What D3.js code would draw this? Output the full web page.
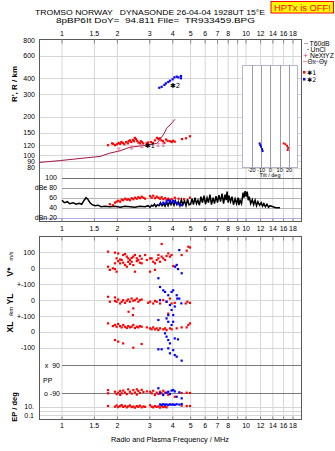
<!DOCTYPE html>
<html><head><meta charset="utf-8">
<script src="https://cdn.jsdelivr.net/npm/d3@7/dist/d3.min.js"></script>
<style>
body{margin:0;background:#fff}
svg{display:block}
text{font-family:"Liberation Sans",Arial,sans-serif;fill:#000}
</style>
</head><body>
<svg id="c" width="335" height="451"></svg>
<script>
// ---------------- DATA ----------------
const headerLine1 = "TROMSO NORWAY   DYNASONDE 26-04-04 1928UT 15°E";
const headerLine2 = "8pBP6It DoY=  94.811 File=  TR933459.BPG";
const statusText = "HPTx is OFF!";
const xTitle = "Radio and Plasma Frequency / MHz";

const freqTicksTop = [1,1.5,2,3,4,5,6,7,8,10,12,14,16,18];
const freqTicksMid = [1,1.5,2,3,4,5,6,7,8,9,10,12,14,16,18];
const freqTicksBottom = [1,1.5,2,3,4,5,6,7,8,10,12,14,16,18];
const freqGrid = [1,1.5,2,3,4,5,6,7,8,9,10,12,14,16,18];

const heightTicks = [800,600,400,300,200,150,120,100,90,80];
const ampTicks = [100,80,60,40,20];
const ampLabels = ["100","dBe 80","60","40","dBn 20"];
const tiltTicks = [-20,-10,0,10,20];
const vTicks = [100,0,-100];
const vLabels = ["100","0","+-100"];
const ylTicks = [0,-100];
const ylLabels = ["0","+-100"];
const xlTicks = [0,-100];
const xlLabels = ["0","-100"];
const ppTicks = [90,-90];
const ppLabels = ["x  90","o -90"];
const epTicks = [10,1,0.1];
const epLabels = ["10.","","0.1"];

// real-height profile (f MHz, km)
const profile = [[0.755,88],[0.98,91],[1.30,95],[1.61,98],[1.82,104],[2.07,108.6],[2.25,113.5],[2.34,115.6],[2.65,118.3],[2.99,120.5],[3.27,124.2],[3.34,127.9],[3.54,144],[3.63,153],[3.70,162.8],[3.86,172.7],[4.11,191.4]];
// NeXtYZ markers
const nextyz = [[2.04,111],[2.39,115],[2.72,118],[3.33,121],[3.55,121]];
// echo trace *1 (red) virtual heights
const red1 = [[1.78,120],[1.87,124],[1.90,123],[1.94,120],[1.99,122],[2.03,125],[2.07,123],[2.10,127],[2.14,125],[2.18,122],[2.23,127],[2.28,124],[2.30,129],[2.34,131],[2.38,127],[2.43,132],[2.46,129],[2.49,137],[2.52,134],[2.56,130],[2.60,126],[2.65,124],[2.68,129],[2.72,127],[2.76,124],[2.88,124],[2.93,126],[3.04,127],[3.12,125],[3.20,131],[3.28,137],[3.34,134],[3.40,136],[3.47,131],[3.54,129],[3.60,125],[3.68,133],[3.75,130],[3.86,129],[3.95,127],[4.01,130],[4.10,128],[4.49,134],[4.72,136],[4.96,141]];
// echo trace *2 (blue)
const blue2 = [[3.38,338],[3.48,344],[3.60,356],[3.67,366],[3.78,375],[3.86,384],[3.99,394],[4.08,408],[4.20,413],[4.29,408],[4.43,418],[4.43,401]];
// amplitude (dB)
const noise = [[1.00,55],[1.03,50],[1.07,52],[1.10,48],[1.15,50],[1.19,47],[1.24,49],[1.28,47],[1.32,55],[1.35,60],[1.38,57],[1.42,50],[1.46,46],[1.51,44],[1.57,45],[1.63,42],[1.71,43],[1.82,42],[1.94,43],[2.07,41],[2.20,43],[2.34,42],[2.49,41],[2.65,43],[2.83,42],[2.93,44],[3.01,41],[3.07,45],[3.12,43],[3.18,47],[3.24,42],[3.30,46],[3.37,44],[3.43,50],[3.50,44],[3.56,48],[3.63,43],[3.70,51],[3.77,44],[3.84,52],[3.91,46],[3.98,53],[4.06,45],[4.13,54],[4.21,46],[4.29,52],[4.37,44],[4.45,56],[4.54,46],[4.63,54],[4.72,44],[4.81,57],[4.90,46],[5.00,47],[5.09,58],[5.18,46],[5.28,60],[5.38,48],[5.48,55],[5.58,45],[5.69,62],[5.80,50],[5.91,64],[6.02,47],[6.14,60],[6.25,50],[6.37,66],[6.49,46],[6.62,60],[6.74,48],[6.87,63],[7.00,50],[7.13,65],[7.27,52],[7.41,68],[7.55,48],[7.69,66],[7.80,55],[7.89,72],[8.00,50],[8.08,64],[8.24,52],[8.39,62],[8.55,46],[8.72,58],[8.88,48],[9.05,60],[9.15,45],[9.28,55],[9.45,48],[9.64,70],[9.75,60],[9.89,73],[10.02,62],[10.15,72],[10.28,55],[10.41,62],[10.6,48],[10.81,56],[11.0,46],[11.2,55],[11.4,44],[11.6,52],[11.85,45],[12.1,50],[12.3,43],[12.5,48],[12.75,42],[13.0,47],[13.25,41],[13.5,44],[14.0,42],[14.5,40],[15.3,40]];
const redAmp = [[1.82,47],[1.89,45],[1.94,50],[1.98,52],[2.02,54],[2.07,52],[2.11,56],[2.15,55],[2.20,58],[2.25,56],[2.29,57],[2.34,55],[2.39,59],[2.44,57],[2.49,60],[2.55,58],[2.60,61],[2.65,59],[2.71,62],[2.77,60],[2.83,58],[3.01,63],[3.07,60],[3.13,64],[3.20,59],[3.27,62],[3.34,60],[3.41,58],[3.48,61],[3.55,57],[3.63,59],[3.70,56],[3.78,58],[3.86,55],[3.94,57],[4.10,60],[4.30,58],[4.60,57],[4.96,60]];
const blueAmp = [[3.41,47],[3.55,50],[3.63,48],[3.70,52],[3.78,55],[3.86,53],[3.94,50],[4.02,54],[4.10,52],[4.20,49],[4.34,47],[4.47,45]];
// V* (m/s)
const redV = [[1.78,104],[1.78,10],[1.82,-10],[1.89,0],[1.94,98],[1.94,31],[1.94,-5],[1.98,62],[1.98,-21],[2.02,93],[2.02,45],[2.07,31],[2.07,55],[2.11,52],[2.15,83],[2.15,35],[2.20,89],[2.20,21],[2.25,73],[2.25,10],[2.29,62],[2.29,40],[2.34,52],[2.34,27],[2.39,41],[2.39,65],[2.44,73],[2.44,20],[2.49,83],[2.49,-21],[2.55,62],[2.55,45],[2.60,52],[2.65,77],[2.65,35],[2.71,31],[2.71,60],[2.83,83],[2.89,52],[3.01,62],[3.01,-21],[3.07,62],[3.13,41],[3.20,31],[3.20,-10],[3.27,52],[3.34,62],[3.34,83],[3.41,41],[3.48,73],[3.48,152],[3.55,62],[3.63,52],[3.70,77],[3.78,93],[3.86,73],[3.94,83],[4.02,14],[4.47,83],[4.76,110],[4.86,135],[4.96,130]];
const blueV = [[4.34,114],[4.20,21],[4.12,10],[4.27,-5],[4.47,-31],[3.34,-62]];
// YL (km)
const redYL = [[1.78,21],[1.82,-10],[1.94,17],[1.94,-5],[1.98,-10],[2.02,4],[2.07,-21],[2.11,-10],[2.15,0],[2.20,-17],[2.25,-4],[2.29,4],[2.34,-10],[2.39,10],[2.44,-4],[2.44,-52],[2.49,0],[2.55,10],[2.60,-10],[2.65,0],[2.71,4],[2.30,-73],[2.43,-94],[2.94,-17],[3.01,-10],[3.13,-21],[3.20,-5],[3.27,-10],[3.41,-21],[3.55,0],[3.70,-10],[3.78,-85],[3.86,10],[3.94,-21],[4.10,-17],[4.70,-21],[4.80,-10],[4.96,-17]];
const blueYL = [[3.41,83],[3.55,62],[3.63,52],[3.78,31],[3.94,52],[4.02,62],[4.20,31],[4.23,10],[4.34,10],[3.41,0],[3.70,-10],[3.86,-31],[3.94,-62],[4.02,-94],[3.78,-94],[4.10,-40],[4.45,-20]];
// XL (km)
const redXL = [[1.78,52],[1.89,35],[1.94,42],[1.98,31],[2.02,48],[2.07,35],[2.11,27],[2.15,42],[2.20,31],[2.25,23],[2.29,35],[2.34,27],[2.39,31],[2.44,42],[2.49,23],[2.55,31],[2.60,27],[2.65,35],[2.71,31],[2.89,27],[3.01,21],[3.07,15],[3.13,27],[3.20,15],[3.27,21],[3.34,10],[3.41,21],[3.55,15],[3.63,21],[3.70,10],[3.86,21],[3.94,15],[4.20,21],[4.47,27],[4.76,27],[4.86,42],[4.96,52],[1.94,-52],[2.02,-62],[2.15,-73],[2.44,-100],[2.71,-77]];
const blueXL = [[3.34,73],[3.70,83],[3.78,62],[3.94,42],[4.02,62],[3.63,-10],[3.70,-31],[3.78,-52],[3.86,-73],[4.10,-42],[4.27,-48],[3.78,-104],[3.34,-110],[3.48,-110],[4.02,-115],[3.86,-135],[4.10,-146],[4.20,-156],[4.47,-181]];
// PP (deg)
const redPP = [[1.78,-70],[1.78,-90],[1.94,-80],[1.98,-95],[2.02,-86],[2.07,-100],[2.07,-75],[2.11,-90],[2.15,-73],[2.20,-85],[2.25,-95],[2.29,-65],[2.34,-80],[2.39,-92],[2.44,-70],[2.49,-85],[2.55,-65],[2.55,-98],[2.60,-75],[2.65,-88],[2.71,-68],[2.77,-82],[2.89,-78],[3.01,-80],[3.07,-90],[3.13,-74],[3.20,-101],[3.27,-86],[3.34,-94],[3.41,-80],[3.48,-90],[3.55,-74],[3.63,-86],[3.78,-100],[4.10,-112],[4.47,-88],[4.76,-86],[4.96,-88]];
const bluePP = [[3.34,-58],[3.41,-90],[3.55,-101],[3.70,-86],[3.78,-80],[3.86,-94],[3.94,-73],[4.02,-69],[4.10,-78],[4.20,-112],[4.47,-122],[4.34,-84]];
// EP (deg)
const redEP = [[1.78,15],[1.94,10],[1.98,20],[2.02,8],[2.07,14],[2.11,25],[2.15,9],[2.20,16],[2.25,7],[2.29,12],[2.34,20],[2.39,8],[2.44,11],[2.49,6],[2.55,14],[2.60,9],[2.65,18],[2.71,7],[2.77,12],[2.83,9],[3.01,22],[3.07,10],[3.13,7],[3.20,14],[3.27,9],[3.34,12],[3.41,6],[3.48,16],[3.55,8],[3.63,11],[3.70,7],[4.47,18],[4.76,15],[4.96,15]];
const blueEP = [[3.41,35],[3.48,28],[3.55,40],[3.63,30],[3.70,35],[3.78,25],[3.86,38],[3.94,30],[4.02,35],[4.10,28],[4.20,40],[4.34,32],[4.47,45]];
// Tilt inset (deg, km)
const redTilt = [[14.3,124],[16.1,122],[17.9,118.7],[19.0,114.5],[18.6,110]];
const blueTilt = [[-11.5,124],[-10.8,120.5],[-10.0,116.8],[-8.9,112],[-8.3,108]];
const traceLabels = [{t:"✱1", f:3.0, h:120},{t:"✱2", f:4.12, h:352}];
const legendItems = ["T60dB","UnCl","NeXtYZ"];

// ---------------- SCALES ----------------
const FX0=39.5, FX1=301.5, TOP0=39.5, TOP1=221.5, BOT0=236.5, BOT1=419.5;
const x = d3.scaleLog().domain([1,18]).range([62,293]);
const yR = d3.scaleLog().domain([80,800]).range([167.7,40]);
const yA = d3.scaleLinear().domain([20,100]).range([217.7,177.7]);
const yV = d3.scaleLinear().domain([-100,100]).range([284.3,252.3]);
const yYL = d3.scaleLinear().domain([-100,100]).range([316,284.3]);
const yXL = d3.scaleLinear().domain([-100,100]).range([347.7,315.7]);
const yPP = d3.scaleLinear().domain([-90,90]).range([393.3,365]);
const yEP = d3.scaleLog().domain([0.1,10]).range([415,406.7]);
const xT = d3.scaleLinear().domain([-20,20]).range([251.7,289]);

const RED="#ff0000", BLUE="#0000ff", GRID="#d6d6d6", FRAME="#5a5a5a";
const svg = d3.select("#c");

// clip paths
const defs = svg.append("defs");
defs.append("clipPath").attr("id","ct").append("rect").attr("x",FX0).attr("y",TOP0).attr("width",FX1-FX0).attr("height",TOP1-TOP0);
defs.append("clipPath").attr("id","cb").append("rect").attr("x",FX0).attr("y",BOT0).attr("width",FX1-FX0).attr("height",BOT1-BOT0);

// ---------------- HEADER ----------------
svg.append("text").attr("x",35).attr("y",15.3).attr("font-size",8).attr("textLength",230).attr("lengthAdjust","spacingAndGlyphs")
  .style("white-space","pre").text(headerLine1);
svg.append("text").attr("x",56).attr("y",23).attr("font-size",8).attr("textLength",199).attr("lengthAdjust","spacingAndGlyphs")
  .style("white-space","pre").text(headerLine2);
svg.append("rect").attr("x",271).attr("y",1.5).attr("width",62.5).attr("height",11.5).attr("fill","#ffff00").attr("stroke",RED).attr("stroke-width",1);
svg.append("text").attr("x",274).attr("y",10.8).attr("font-size",8.5).attr("textLength",57).attr("lengthAdjust","spacingAndGlyphs")
  .style("fill",RED).text(statusText);

// ---------------- GRIDS ----------------
const gTop = svg.append("g");
gTop.selectAll("line.vg").data(freqGrid).join("line")
  .attr("x1",d=>x(d)).attr("x2",d=>x(d)).attr("y1",TOP0).attr("y2",TOP1).attr("stroke",GRID);
gTop.selectAll("line.hg").data(heightTicks.slice(1)).join("line").attr("class","hg")
  .attr("x1",FX0).attr("x2",FX1).attr("y1",d=>Math.round(yR(d))+0.5).attr("y2",d=>Math.round(yR(d))+0.5).attr("stroke",GRID);
const gBot = svg.append("g");
gBot.selectAll("line").data(freqGrid).join("line")
  .attr("x1",d=>x(d)).attr("x2",d=>x(d)).attr("y1",BOT0).attr("y2",BOT1).attr("stroke",GRID);

// lower panel horizontal grid lines
const lowLines = [yV(100),yV(0),yV(-100),yYL(0),yYL(-100),yXL(0),yXL(-100)];
svg.selectAll("line.lg").data(lowLines).join("line").attr("class","lg")
  .attr("x1",FX0).attr("x2",FX1).attr("y1",d=>Math.round(d)+0.5).attr("y2",d=>Math.round(d)+0.5).attr("stroke",GRID);
svg.selectAll("line.ep").data(epTicks).join("line").attr("class","ep")
  .attr("x1",FX0).attr("x2",FX1).attr("y1",d=>Math.round(yEP(d))+0.5).attr("y2",d=>Math.round(yEP(d))+0.5).attr("stroke",GRID);
svg.selectAll("line.pp").data(ppTicks).join("line").attr("class","pp")
  .attr("x1",x(1)).attr("x2",FX1).attr("y1",d=>Math.round(yPP(d))+0.5).attr("y2",d=>Math.round(yPP(d))+0.5).attr("stroke","#7a7a7a");

// amplitude lines
const ampColor = [ "#707070","#9a9a9a","#b4b4b4","#b4b4b4","#b0b0e8"];
svg.selectAll("line.am").data(ampTicks).join("line").attr("class","am")
  .attr("x1",(d,i)=>i===4?FX0:x(1)).attr("x2",FX1)
  .attr("y1",d=>Math.round(yA(d))+0.5).attr("y2",d=>Math.round(yA(d))+0.5)
  .attr("stroke",(d,i)=>ampColor[i]);

// ---------------- FRAMES & TICKS ----------------
svg.append("rect").attr("x",FX0).attr("y",TOP0).attr("width",FX1-FX0).attr("height",TOP1-TOP0).attr("fill","none").attr("stroke",FRAME);
svg.append("rect").attr("x",FX0).attr("y",BOT0).attr("width",FX1-FX0).attr("height",BOT1-BOT0).attr("fill","none").attr("stroke",FRAME);
[[TOP0,4],[BOT0,4],[TOP1,-3],[BOT1,-3]].forEach(([yy,len])=>{
  svg.append("g").selectAll("line").data(freqGrid).join("line")
    .attr("x1",d=>x(d)).attr("x2",d=>x(d)).attr("y1",yy).attr("y2",yy+len).attr("stroke","#888");
});

// frequency tick labels
function freqLabels(ticks,yy){
  svg.append("g").selectAll("text").data(ticks).join("text")
    .attr("x",d=>x(d)).attr("y",yy).attr("text-anchor","middle").attr("font-size",7).text(d=>d);
}
freqLabels(freqTicksTop,35.5);
freqLabels(freqTicksMid,231);
freqLabels(freqTicksBottom,428);
svg.append("text").attr("x",170).attr("y",442).attr("text-anchor","middle").attr("font-size",7.5)
  .attr("textLength",118).attr("lengthAdjust","spacingAndGlyphs").text(xTitle);

// left labels
svg.append("g").selectAll("text").data(heightTicks).join("text")
  .attr("x",35).attr("y",d=>yR(d)+2.5).attr("text-anchor","end").attr("font-size",7).text(d=>d);
svg.append("g").selectAll("text").data(ampTicks).join("text")
  .attr("x",57).attr("y",d=>yA(d)+2.5).attr("text-anchor","end").attr("font-size",7).text((d,i)=>ampLabels[i]);
function leftLab(ticks,labels,sc,xx){
  svg.append("g").selectAll("text").data(ticks).join("text")
    .attr("x",xx).attr("y",d=>sc(d)+2.5).attr("text-anchor","end").attr("font-size",7)
    .style("white-space","pre").text((d,i)=>labels[i]);
}
leftLab(vTicks,vLabels,yV,35);
leftLab(ylTicks,ylLabels,yYL,35);
leftLab(xlTicks,xlLabels,yXL,35);
leftLab(ppTicks,ppLabels,yPP,60);
leftLab(epTicks,epLabels,yEP,34);
svg.append("text").attr("x",43).attr("y",383).attr("font-size",7).text("PP");

// rotated axis titles
function rot(t,xx,yy,size,weight){
  svg.append("text").attr("transform",`translate(${xx},${yy}) rotate(-90)`).attr("text-anchor","middle")
    .attr("font-size",size).attr("font-weight",weight||"bold").text(t);
}
rot("R', R / km",17,84,8);
rot("V*",13,272,8.5);
rot("m/s",12.5,256,5.5,"normal");
rot("YL",13,299,8.5);
rot("/km",13,311.5,6,"normal");
rot("XL",13,327,8.5);
rot("EP / deg",17,407,7.5);

// ---------------- TILT INSET ----------------
const inset = svg.append("g");
inset.append("rect").attr("x",242.5).attr("y",65.5).attr("width",55).attr("height",102).attr("fill","#fff").attr("stroke","#b4b4cc");
inset.selectAll("line").data(tiltTicks).join("line")
  .attr("x1",d=>Math.round(xT(d))+0.5).attr("x2",d=>Math.round(xT(d))+0.5).attr("y1",65.5).attr("y2",167.5).attr("stroke","#9a9aaa");
inset.selectAll("text.tt").data(tiltTicks).join("text").attr("class","tt")
  .attr("x",d=>xT(d)).attr("y",172).attr("text-anchor","middle").attr("font-size",5.5).text(d=>d);
inset.append("text").attr("x",270).attr("y",177).attr("text-anchor","middle").attr("font-size",5.5).text("Tilt / deg");
function sq(g,data,fx,fy,color,s){
  s=s||2;
  g.selectAll(null).data(data).join("rect")
    .attr("x",d=>fx(d)-s/2).attr("y",d=>fy(d)-s/2).attr("width",s).attr("height",s).attr("fill",color);
}
sq(inset,redTilt,d=>xT(d[0]),d=>yR(d[1]),RED,2);
sq(inset,blueTilt,d=>xT(d[0]),d=>yR(d[1]),BLUE,2);

// ---------------- TOP PANEL DATA ----------------
const pt = svg.append("g").attr("clip-path","url(#ct)");
sq(pt,red1,d=>x(d[0]),d=>yR(d[1]),RED,2.2);
sq(pt,blue2,d=>x(d[0]),d=>yR(d[1]),BLUE,2.2);
pt.append("path").datum(profile).attr("fill","none").attr("stroke","#a3163e").attr("stroke-width",1)
  .attr("d",d3.line().x(d=>x(d[0])).y(d=>yR(d[1])));
pt.selectAll("path.nx").data(nextyz).join("path").attr("class","nx")
  .attr("d",d=>{const cx=x(d[0]),cy=yR(d[1]);return `M${cx-1.5},${cy-1.5}h3M${cx},${cy-1.5}v3M${cx-1.5},${cy+1.5}h3`;})
  .attr("stroke","#e86a9a").attr("stroke-width",0.9).attr("fill","none");
pt.selectAll("text.tl").data(traceLabels).join("text").attr("class","tl")
  .attr("x",d=>x(d.f)).attr("y",d=>yR(d.h)+2.5).attr("text-anchor","middle")
  .attr("font-size",7).style("font-family","'DejaVu Sans',sans-serif").text(d=>d.t);
// amplitude
pt.append("path").datum(noise).attr("fill","none").attr("stroke","#000").attr("stroke-width",1.5)
  .attr("d",d3.line().x(d=>x(d[0])).y(d=>yA(d[1])));
sq(pt,redAmp,d=>x(d[0]),d=>yA(d[1]),RED,2.2);
sq(pt,blueAmp,d=>x(d[0]),d=>yA(d[1]),BLUE,2.2);

// ---------------- LOWER PANEL DATA ----------------
const pb = svg.append("g").attr("clip-path","url(#cb)");
sq(pb,redV,d=>x(d[0]),d=>yV(d[1]),RED,2.2);
sq(pb,blueV,d=>x(d[0]),d=>yV(d[1]),BLUE,2.2);
sq(pb,redYL,d=>x(d[0]),d=>yYL(d[1]),RED,2.2);
sq(pb,blueYL,d=>x(d[0]),d=>yYL(d[1]),BLUE,2.2);
sq(pb,redXL,d=>x(d[0]),d=>yXL(d[1]),RED,2.2);
sq(pb,blueXL,d=>x(d[0]),d=>yXL(d[1]),BLUE,2.2);
sq(pb,redPP,d=>x(d[0]),d=>yPP(d[1]),RED,2.2);
sq(pb,bluePP,d=>x(d[0]),d=>yPP(d[1]),BLUE,2.2);
sq(pb,redEP,d=>x(d[0]),d=>yEP(d[1]),RED,2.2);
sq(pb,blueEP,d=>x(d[0]),d=>yEP(d[1]),BLUE,2.2);

// ---------------- LEGEND ----------------
const lg = svg.append("g");
lg.append("line").attr("x1",304).attr("x2",308).attr("y1",43.5).attr("y2",43.5).attr("stroke","#aaa");
lg.append("circle").attr("cx",308).attr("cy",49.5).attr("r",0.6).attr("fill","#000");
lg.append("path").attr("d","M303.5,55.5h4M305.5,53.5v4").attr("stroke","#e86a9a").attr("stroke-width",0.8);
lg.selectAll("text.li").data(legendItems).join("text").attr("class","li")
  .attr("x",(d,i)=>[309.5,310.5,310][i]).attr("y",(d,i)=>[46,52,58][i]).attr("font-size",6.8).text(d=>d);
lg.append("line").attr("x1",303).attr("x2",307).attr("y1",61.5).attr("y2",61.5).attr("stroke","#e88aa8");
lg.append("text").attr("x",307.5).attr("y",64).attr("font-size",6.5).text("Θx");
lg.append("line").attr("x1",314).attr("x2",318.5).attr("y1",61.5).attr("y2",61.5).attr("stroke","#9a9ae8");
lg.append("text").attr("x",319).attr("y",64).attr("font-size",6.5).text("Θy");
lg.append("rect").attr("x",303).attr("y",71).attr("width",2.5).attr("height",2.5).attr("fill",RED);
lg.append("rect").attr("x",303).attr("y",78).attr("width",2.5).attr("height",2.5).attr("fill",BLUE);
lg.append("text").attr("x",307).attr("y",74.8).attr("font-size",6.3).style("font-family","'DejaVu Sans',sans-serif").text("✱1");
lg.append("text").attr("x",307).attr("y",81.8).attr("font-size",6.3).style("font-family","'DejaVu Sans',sans-serif").text("✱2");
</script>
</body></html>
